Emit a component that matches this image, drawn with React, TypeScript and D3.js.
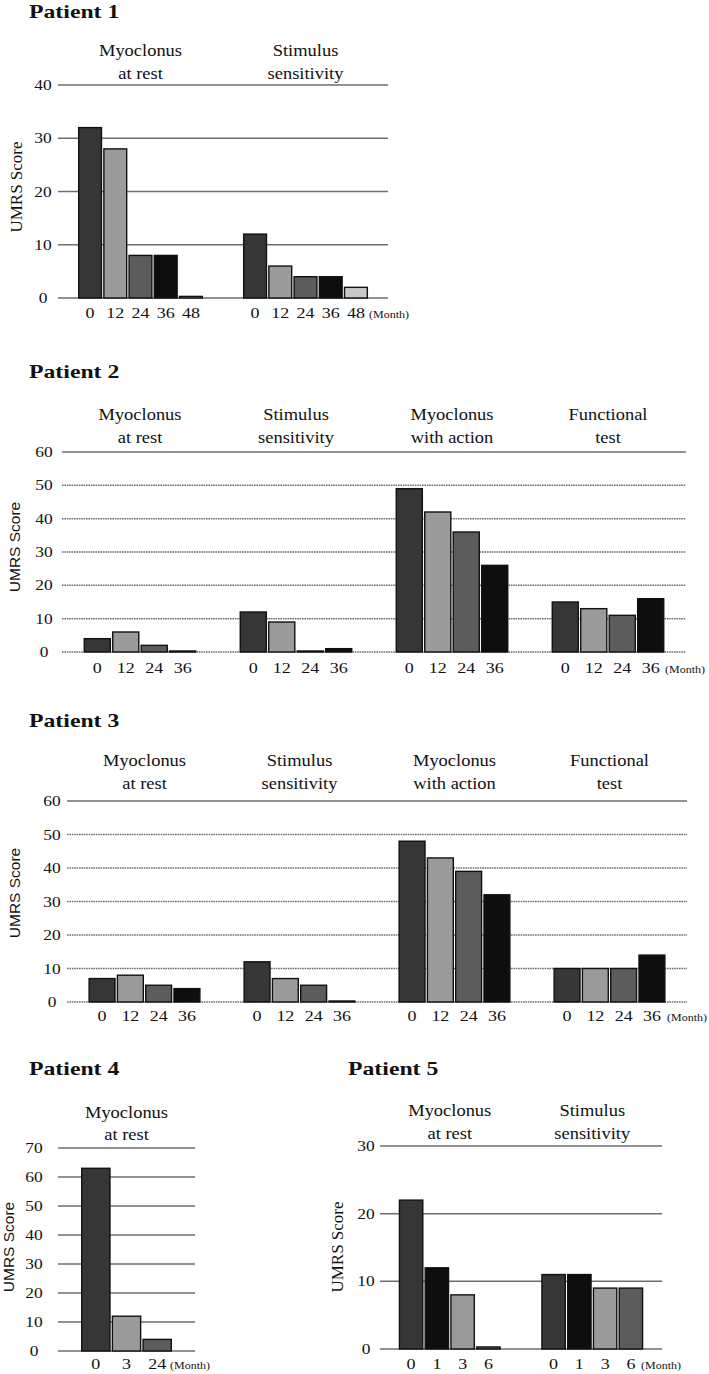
import React from "react";
import * as d3 from "d3";

const SERIF = "'Liberation Serif', 'Times New Roman', serif";
const SANS = "'Liberation Sans', Arial, sans-serif";

// ---------- DATA ----------
// Patient 1
const p1Categories = [["Myoclonus", "at rest"], ["Stimulus", "sensitivity"]];
const p1Months = ["0", "12", "24", "36", "48"];
const p1Rest = [32, 28, 8, 8, 0.3];
const p1Stim = [12, 6, 4, 4, 2];
const p1Ticks = [0, 10, 20, 30, 40];

// Patient 2
const p2Categories = [["Myoclonus", "at rest"], ["Stimulus", "sensitivity"], ["Myoclonus", "with action"], ["Functional", "test"]];
const p2Months = ["0", "12", "24", "36"];
const p2Rest = [4, 6, 2, 0.3];
const p2Stim = [12, 9, 0.3, 1];
const p2Action = [49, 42, 36, 26];
const p2Functional = [15, 13, 11, 16];
const p2Ticks = [0, 10, 20, 30, 40, 50, 60];

// Patient 3
const p3Categories = [["Myoclonus", "at rest"], ["Stimulus", "sensitivity"], ["Myoclonus", "with action"], ["Functional", "test"]];
const p3Months = ["0", "12", "24", "36"];
const p3Rest = [7, 8, 5, 4];
const p3Stim = [12, 7, 5, 0.3];
const p3Action = [48, 43, 39, 32];
const p3Functional = [10, 10, 10, 14];
const p3Ticks = [0, 10, 20, 30, 40, 50, 60];

// Patient 4
const p4Categories = [["Myoclonus", "at rest"]];
const p4Months = ["0", "3", "24"];
const p4Rest = [63, 12, 4];
const p4Ticks = [0, 10, 20, 30, 40, 50, 60, 70];

// Patient 5
const p5Categories = [["Myoclonus", "at rest"], ["Stimulus", "sensitivity"]];
const p5Months = ["0", "1", "3", "6"];
const p5Rest = [22, 12, 8, 0.3];
const p5Stim = [11, 11, 9, 9];
const p5Ticks = [0, 10, 20, 30];

// ---------- LAYOUT ----------
const DARK = "#363636", LIGHT = "#9b9b9b", MID = "#5c5c5c", BLACK = "#0e0e0e", PALE = "#c9c9c9";

type Cfg = {
  title: string; titleX: number; titleY: number;
  x0: number; x1: number; yTop: number; yBot: number; max: number;
  ticks: number[]; tickX: number;
  cats: string[][]; catY1: number; catY2: number;
  groups: number[][]; months: string[]; colors: string[];
  pi: number; po: number; xlabOff: number; monthX: number;
  umrsX: number; umrsY: number; umrsFamily: string; umrsSize: number;
  dotted: boolean; sx: number;
};

const panels: Cfg[] = [
  {
    title: "Patient 1", titleX: 29, titleY: 18,
    x0: 58, x1: 388, yTop: 85, yBot: 298, max: 40, ticks: p1Ticks, tickX: 43,
    cats: p1Categories, catY1: 56, catY2: 79,
    groups: [p1Rest, p1Stim], months: p1Months, colors: [DARK, LIGHT, MID, BLACK, PALE],
    pi: 0.236, po: 0.118, xlabOff: 20, monthX: 369,
    umrsX: 16, umrsY: 187, umrsFamily: SERIF, umrsSize: 17, dotted: false, sx: 1.2,
  },
  {
    title: "Patient 2", titleX: 29, titleY: 378,
    x0: 62, x1: 686, yTop: 452, yBot: 652, max: 60, ticks: p2Ticks, tickX: 44,
    cats: p2Categories, catY1: 420, catY2: 443,
    groups: [p2Rest, p2Stim, p2Action, p2Functional], months: p2Months, colors: [DARK, LIGHT, MID, BLACK],
    pi: 0.27, po: 0.135, xlabOff: 21, monthX: 665,
    umrsX: 14, umrsY: 547, umrsFamily: SANS, umrsSize: 15.5, dotted: true, sx: 1.2,
  },
  {
    title: "Patient 3", titleX: 29, titleY: 727,
    x0: 67, x1: 687, yTop: 801, yBot: 1002, max: 60, ticks: p3Ticks, tickX: 52,
    cats: p3Categories, catY1: 766, catY2: 789,
    groups: [p3Rest, p3Stim, p3Action, p3Functional], months: p3Months, colors: [DARK, LIGHT, MID, BLACK],
    pi: 0.27, po: 0.135, xlabOff: 19, monthX: 667,
    umrsX: 14, umrsY: 893, umrsFamily: SANS, umrsSize: 15.5, dotted: true, sx: 1.2,
  },
  {
    title: "Patient 4", titleX: 29, titleY: 1075,
    x0: 58, x1: 195, yTop: 1148, yBot: 1351, max: 70, ticks: p4Ticks, tickX: 34,
    cats: p4Categories, catY1: 1118, catY2: 1140,
    groups: [p4Rest], months: p4Months, colors: [DARK, LIGHT, MID],
    pi: 0, po: 0.245, xlabOff: 18, monthX: 170,
    umrsX: 8, umrsY: 1247, umrsFamily: SANS, umrsSize: 15.5, dotted: false, sx: 1.2,
  },
  {
    title: "Patient 5", titleX: 348, titleY: 1075,
    x0: 380, x1: 662, yTop: 1146, yBot: 1349, max: 30, ticks: p5Ticks, tickX: 366,
    cats: p5Categories, catY1: 1116, catY2: 1139,
    groups: [p5Rest, p5Stim], months: p5Months, colors: [DARK, BLACK, LIGHT, MID],
    pi: 0.277, po: 0.128, xlabOff: 20, monthX: 641,
    umrsX: 337, umrsY: 1247, umrsFamily: SERIF, umrsSize: 17, dotted: false, sx: 1.2,
  },
];

function T(props: {
  x: number; y: number; size: number; sx?: number; anchor?: string; weight?: string;
  family?: string; rotate?: number; children: React.ReactNode; baseline?: string;
}) {
  const { x, y, size, sx = 1.15, anchor = "middle", weight = "normal", family = SERIF, rotate = 0, children, baseline } = props;
  return (
    <text
      transform={`translate(${x},${y}) rotate(${rotate}) scale(${sx},1)`}
      fontSize={size}
      fontFamily={family}
      fontWeight={weight}
      textAnchor={anchor}
      dominantBaseline={baseline}
      fill="#111"
    >
      {children}
    </text>
  );
}

function Panel({ cfg }: { cfg: Cfg }) {
  const y = d3.scaleLinear().domain([0, cfg.max]).range([cfg.yBot, cfg.yTop]);
  const gx = d3
    .scaleBand<number>()
    .domain(d3.range(cfg.groups.length))
    .range([cfg.x0, cfg.x1])
    .paddingInner(cfg.pi)
    .paddingOuter(cfg.po);
  const bx = d3.scaleBand<number>().domain(d3.range(cfg.months.length)).range([0, gx.bandwidth()]);
  const inset = 1.2;
  return (
    <g>
      <T x={cfg.titleX} y={cfg.titleY} size={19} sx={1.25} anchor="start" weight="bold">
        {cfg.title}
      </T>
      {/* grid */}
      {cfg.ticks.map((t) => (
        <g key={t}>
          <line
            x1={cfg.x0}
            x2={cfg.x1}
            y1={y(t)}
            y2={y(t)}
            stroke="#6e6e6e"
            strokeWidth={1.5}
            strokeDasharray={cfg.dotted && t !== cfg.max ? "1.6 0.8" : undefined}
          />
          <T x={cfg.tickX} y={y(t) + 5} size={14.5} sx={cfg.sx}>
            {String(t)}
          </T>
        </g>
      ))}
      {/* category labels */}
      {cfg.cats.map((lines, g) => {
        const cx = (gx(g) as number) + gx.bandwidth() / 2;
        return (
          <g key={g}>
            <T x={cx} y={cfg.catY1} size={16.5} sx={1.12}>{lines[0]}</T>
            <T x={cx} y={cfg.catY2} size={16.5} sx={1.12}>{lines[1]}</T>
          </g>
        );
      })}
      {/* bars */}
      {cfg.groups.map((vals, g) =>
        vals.map((v, i) => {
          const x = (gx(g) as number) + (bx(i) as number);
          return (
            <rect
              key={`${g}-${i}`}
              x={x + inset}
              y={y(v)}
              width={bx.bandwidth() - inset * 2}
              height={cfg.yBot - y(v)}
              fill={cfg.colors[i]}
              stroke="#111"
              strokeWidth={1.4}
            />
          );
        })
      )}
      {/* x labels */}
      {cfg.groups.map((vals, g) =>
        cfg.months.map((m, i) => (
          <T
            key={`l${g}-${i}`}
            x={(gx(g) as number) + (bx(i) as number) + bx.bandwidth() / 2}
            y={cfg.yBot + cfg.xlabOff}
            size={15}
            sx={cfg.sx}
          >
            {m}
          </T>
        ))
      )}
      <T x={cfg.monthX} y={cfg.yBot + cfg.xlabOff} size={10} sx={1.2} anchor="start">
        (Month)
      </T>
      <T
        x={cfg.umrsX}
        y={cfg.umrsY}
        size={cfg.umrsSize}
        sx={1}
        rotate={-90}
        family={cfg.umrsFamily}
        baseline="central"
      >
        UMRS Score
      </T>
    </g>
  );
}

export default function App() {
  return (
    <svg
      width={709}
      height={1374}
      viewBox="0 0 709 1374"
      style={{ position: "absolute", left: 0, top: 0, background: "#fff" }}
    >
      <rect x={0} y={0} width={709} height={1374} fill="#fff" />
      {panels.map((p, i) => (
        <Panel key={i} cfg={p} />
      ))}
    </svg>
  );
}
